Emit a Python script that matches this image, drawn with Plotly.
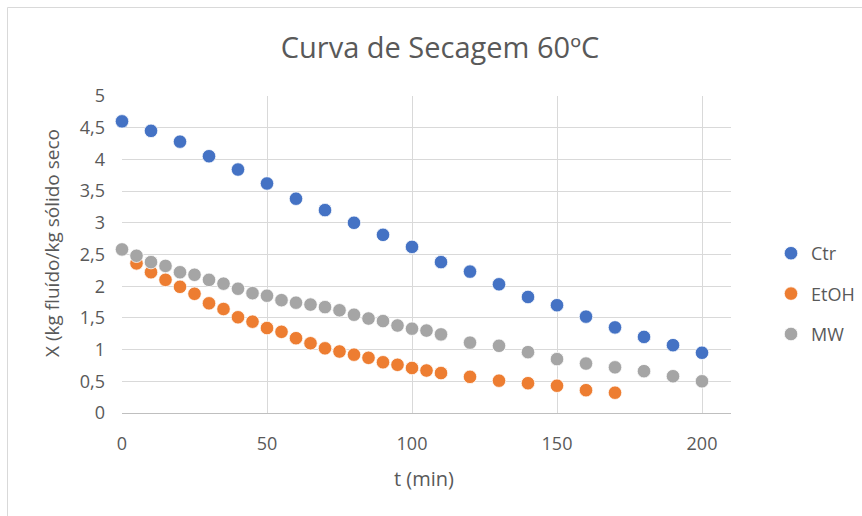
import plotly.graph_objects as go

# Drying curves at 60 ºC: moisture content X vs. time t
t_ctr = [0, 10, 20, 30, 40, 50, 60, 70, 80, 90, 100, 110, 120, 130, 140,
         150, 160, 170, 180, 190, 200]
x_ctr = [4.60, 4.45, 4.28, 4.05, 3.84, 3.62, 3.38, 3.20, 3.00, 2.81, 2.62,
         2.38, 2.23, 2.03, 1.83, 1.70, 1.52, 1.35, 1.20, 1.07, 0.95]

t_etoh = [5, 10, 15, 20, 25, 30, 35, 40, 45, 50, 55, 60, 65, 70, 75, 80, 85,
          90, 95, 100, 105, 110, 120, 130, 140, 150, 160, 170]
x_etoh = [2.36, 2.22, 2.10, 1.99, 1.88, 1.73, 1.64, 1.51, 1.44, 1.34, 1.28,
          1.18, 1.10, 1.02, 0.97, 0.92, 0.87, 0.80, 0.76, 0.71, 0.67, 0.63,
          0.57, 0.51, 0.47, 0.43, 0.36, 0.32]

t_mw = [0, 5, 10, 15, 20, 25, 30, 35, 40, 45, 50, 55, 60, 65, 70, 75, 80, 85,
        90, 95, 100, 105, 110, 120, 130, 140, 150, 160, 170, 180, 190, 200]
x_mw = [2.58, 2.48, 2.38, 2.32, 2.22, 2.18, 2.10, 2.04, 1.96, 1.89, 1.85,
        1.78, 1.74, 1.71, 1.67, 1.62, 1.55, 1.49, 1.45, 1.38, 1.33, 1.30,
        1.24, 1.11, 1.06, 0.96, 0.85, 0.78, 0.72, 0.66, 0.58, 0.50]

series = [("Ctr", t_ctr, x_ctr, "#4472C4"),
          ("EtOH", t_etoh, x_etoh, "#ED7D31"),
          ("MW", t_mw, x_mw, "#A5A5A5")]

W, H = 862, 516
ML, MR, MT, MB = 122, 131, 96, 103
FONT = "Open Sans"
TXT = "#595959"

def px_x(p):
    return (p - ML) / (W - ML - MR)

def px_y(p):
    return (H - MB - p) / (H - MT - MB)

fig = go.Figure()
for name, t, x, col in series:
    fig.add_trace(go.Scatter(
        x=t, y=x, mode="markers", name=name, legendgroup=name,
        cliponaxis=False,
        marker=dict(size=13.5, color=col, line=dict(color="white", width=0.75)),
    ))

fig.update_layout(
    width=W, height=H,
    margin=dict(l=ML, r=MR, t=MT, b=MB, autoexpand=False),
    paper_bgcolor="white", plot_bgcolor="white",
    separators=",.",
    font=dict(family=FONT, color=TXT, size=18),
    title=dict(text="Curva de Secagem 60ºC", x=440 / W, xref="container",
               xanchor="center", y=1 - 48 / H, yref="container",
               yanchor="middle", font=dict(size=29, color=TXT, family=FONT)),
    xaxis=dict(range=[0, 210], tick0=0, dtick=50, showgrid=True,
               gridcolor="#D9D9D9", gridwidth=1.2, zeroline=False,
               showline=True, linecolor="#BFBFBF", linewidth=1.2,
               ticks="", ticklabelstandoff=14, tickfont=dict(size=18)),
    yaxis=dict(range=[0, 5], tick0=0, dtick=0.5, showgrid=True,
               gridcolor="#D9D9D9", gridwidth=1.2, zeroline=False,
               showline=False, ticks="", ticklabelstandoff=16,
               tickfont=dict(size=18)),
    legend=dict(x=px_x(771), xanchor="left", y=px_y(294), yanchor="middle",
                font=dict(size=18, color=TXT), tracegroupgap=14,
                itemwidth=30, bgcolor="rgba(0,0,0,0)"),
    showlegend=True,
)

# Axis titles
fig.add_annotation(text="t (min)", xref="paper", yref="paper",
                   x=px_x(424), y=px_y(478), xanchor="center", yanchor="middle",
                   showarrow=False, font=dict(size=20, color=TXT))
fig.add_annotation(text="X (kg fluído/kg sólido seco", xref="paper", yref="paper",
                   x=px_x(52), y=px_y(243), xanchor="center", yanchor="middle",
                   textangle=-90, showarrow=False, font=dict(size=19, color=TXT))

# Chart frame (top and left edges)
fig.add_shape(type="line", xref="paper", yref="paper",
              x0=px_x(7.5), x1=px_x(W + 5), y0=px_y(7.5), y1=px_y(7.5),
              line=dict(color="#D9D9D9", width=1))
fig.add_shape(type="line", xref="paper", yref="paper",
              x0=px_x(7.5), x1=px_x(7.5), y0=px_y(7.5), y1=px_y(H + 5),
              line=dict(color="#D9D9D9", width=1))

fig.write_html("out.html")
